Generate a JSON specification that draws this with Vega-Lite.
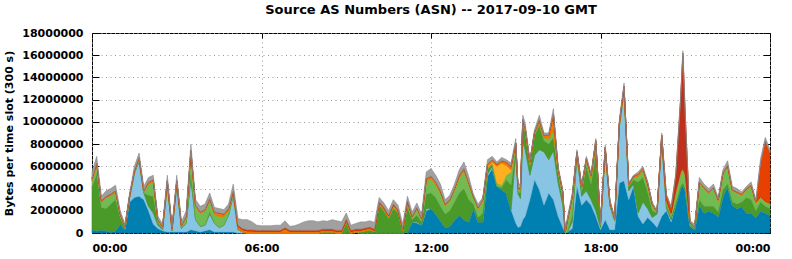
{
"$schema": "https://vega.github.io/schema/vega-lite/v6.json",
"autosize": {"type": "none"},
"padding": {"left": 92, "top": 33, "right": 22, "bottom": 26},
"width": 678,
"height": 200,
"background": "white",
"title": {"text": "Source AS Numbers (ASN) -- 2017-09-10 GMT", "font": "DejaVu Sans", "fontSize": 13, "fontWeight": "bold", "color": "black", "anchor": "middle", "offset": 10},
"config": {
  "view": {"stroke": "black", "strokeWidth": 1},
  "axis": {"labelFont": "DejaVu Sans", "labelFontWeight": "bold", "labelFontSize": 11, "labelColor": "black", "domain": false, "tickColor": "black", "titleFont": "DejaVu Sans", "titleFontWeight": "bold", "titleFontSize": 11, "titleColor": "black", "gridColor": "#9a9a9a", "gridDash": [1, 3.5], "gridOpacity": 1}
},
"data": {"values": [
{"t":0,"a":300000,"b":0,"c":3800000,"d":600000,"e":0,"f":200000,"g":0,"h":0,"i":600000},
{"t":10,"a":200000,"b":0,"c":5100000,"d":800000,"e":0,"f":200000,"g":0,"h":0,"i":600000},
{"t":20,"a":300000,"b":0,"c":2000000,"d":500000,"e":0,"f":100000,"g":0,"h":0,"i":400000},
{"t":30,"a":200000,"b":0,"c":2000000,"d":1000000,"e":0,"f":100000,"g":0,"h":0,"i":500000},
{"t":40,"a":100000,"b":0,"c":2500000,"d":800000,"e":0,"f":100000,"g":0,"h":0,"i":500000},
{"t":50,"a":200000,"b":0,"c":2800000,"d":700000,"e":0,"f":100000,"g":0,"h":0,"i":500000},
{"t":60,"a":800000,"b":0,"c":600000,"d":200000,"e":0,"f":100000,"g":0,"h":0,"i":300000},
{"t":70,"a":300000,"b":0,"c":100000,"d":100000,"e":0,"f":100000,"g":0,"h":0,"i":200000},
{"t":80,"a":2800000,"b":400000,"c":0,"d":100000,"e":0,"f":100000,"g":0,"h":0,"i":200000},
{"t":90,"a":3200000,"b":2200000,"c":0,"d":100000,"e":0,"f":100000,"g":0,"h":0,"i":400000},
{"t":100,"a":3300000,"b":3200000,"c":0,"d":200000,"e":0,"f":100000,"g":0,"h":0,"i":400000},
{"t":110,"a":3000000,"b":600000,"c":0,"d":100000,"e":0,"f":100000,"g":0,"h":0,"i":400000},
{"t":120,"a":2000000,"b":400000,"c":1000000,"d":1000000,"e":0,"f":200000,"g":0,"h":0,"i":400000},
{"t":130,"a":800000,"b":1000000,"c":1500000,"d":1300000,"e":0,"f":200000,"g":0,"h":0,"i":400000},
{"t":140,"a":400000,"b":300000,"c":200000,"d":200000,"e":0,"f":100000,"g":0,"h":0,"i":300000},
{"t":150,"a":200000,"b":100000,"c":100000,"d":100000,"e":0,"f":100000,"g":0,"h":0,"i":200000},
{"t":160,"a":100000,"b":4200000,"c":0,"d":200000,"e":0,"f":200000,"g":0,"h":0,"i":500000},
{"t":170,"a":100000,"b":100000,"c":0,"d":100000,"e":0,"f":100000,"g":0,"h":0,"i":200000},
{"t":180,"a":100000,"b":4200000,"c":0,"d":300000,"e":0,"f":100000,"g":0,"h":0,"i":500000},
{"t":190,"a":100000,"b":300000,"c":0,"d":200000,"e":0,"f":100000,"g":0,"h":0,"i":300000},
{"t":200,"a":100000,"b":800000,"c":0,"d":500000,"e":0,"f":100000,"g":0,"h":0,"i":500000},
{"t":210,"a":300000,"b":4500000,"c":400000,"d":2000000,"e":0,"f":200000,"g":0,"h":0,"i":600000},
{"t":220,"a":200000,"b":1000000,"c":0,"d":1200000,"e":0,"f":100000,"g":0,"h":0,"i":500000},
{"t":230,"a":100000,"b":500000,"c":0,"d":1200000,"e":0,"f":100000,"g":0,"h":0,"i":500000},
{"t":240,"a":200000,"b":500000,"c":0,"d":1300000,"e":0,"f":100000,"g":0,"h":0,"i":500000},
{"t":250,"a":300000,"b":1400000,"c":200000,"d":1100000,"e":0,"f":100000,"g":0,"h":0,"i":500000},
{"t":260,"a":100000,"b":800000,"c":0,"d":800000,"e":0,"f":200000,"g":0,"h":0,"i":400000},
{"t":270,"a":100000,"b":400000,"c":0,"d":1000000,"e":0,"f":300000,"g":0,"h":0,"i":400000},
{"t":280,"a":100000,"b":600000,"c":0,"d":800000,"e":0,"f":200000,"g":0,"h":0,"i":400000},
{"t":290,"a":100000,"b":1500000,"c":0,"d":400000,"e":0,"f":200000,"g":0,"h":0,"i":400000},
{"t":300,"a":100000,"b":3300000,"c":0,"d":200000,"e":0,"f":200000,"g":0,"h":0,"i":600000},
{"t":310,"a":0,"b":300000,"c":0,"d":100000,"e":0,"f":200000,"g":0,"h":100000,"i":600000},
{"t":320,"a":0,"b":100000,"c":0,"d":0,"e":0,"f":200000,"g":0,"h":100000,"i":800000},
{"t":330,"a":0,"b":0,"c":0,"d":0,"e":0,"f":200000,"g":0,"h":100000,"i":900000},
{"t":340,"a":0,"b":0,"c":0,"d":0,"e":0,"f":200000,"g":0,"h":100000,"i":700000},
{"t":350,"a":0,"b":0,"c":0,"d":0,"e":0,"f":150000,"g":0,"h":100000,"i":450000},
{"t":360,"a":0,"b":0,"c":0,"d":0,"e":0,"f":150000,"g":0,"h":100000,"i":400000},
{"t":370,"a":0,"b":0,"c":0,"d":0,"e":0,"f":150000,"g":0,"h":100000,"i":400000},
{"t":380,"a":0,"b":0,"c":0,"d":0,"e":0,"f":150000,"g":0,"h":100000,"i":400000},
{"t":390,"a":0,"b":0,"c":0,"d":0,"e":0,"f":150000,"g":0,"h":100000,"i":450000},
{"t":400,"a":0,"b":0,"c":0,"d":0,"e":0,"f":150000,"g":0,"h":100000,"i":450000},
{"t":410,"a":0,"b":0,"c":0,"d":0,"e":0,"f":400000,"g":0,"h":100000,"i":600000},
{"t":420,"a":0,"b":0,"c":0,"d":0,"e":0,"f":150000,"g":0,"h":100000,"i":350000},
{"t":430,"a":0,"b":0,"c":0,"d":0,"e":0,"f":150000,"g":0,"h":100000,"i":400000},
{"t":440,"a":0,"b":0,"c":0,"d":0,"e":0,"f":150000,"g":0,"h":100000,"i":550000},
{"t":450,"a":0,"b":0,"c":0,"d":0,"e":0,"f":150000,"g":0,"h":100000,"i":750000},
{"t":460,"a":0,"b":0,"c":0,"d":0,"e":0,"f":150000,"g":0,"h":100000,"i":850000},
{"t":470,"a":0,"b":0,"c":0,"d":0,"e":0,"f":150000,"g":0,"h":100000,"i":850000},
{"t":480,"a":0,"b":0,"c":0,"d":0,"e":0,"f":150000,"g":0,"h":100000,"i":750000},
{"t":490,"a":0,"b":0,"c":100000,"d":0,"e":0,"f":150000,"g":0,"h":100000,"i":750000},
{"t":500,"a":0,"b":0,"c":100000,"d":0,"e":0,"f":150000,"g":0,"h":100000,"i":700000},
{"t":510,"a":0,"b":0,"c":100000,"d":0,"e":0,"f":150000,"g":0,"h":100000,"i":850000},
{"t":520,"a":0,"b":0,"c":0,"d":0,"e":0,"f":150000,"g":0,"h":100000,"i":850000},
{"t":530,"a":0,"b":0,"c":0,"d":0,"e":0,"f":150000,"g":0,"h":100000,"i":750000},
{"t":540,"a":0,"b":0,"c":1000000,"d":0,"e":0,"f":150000,"g":0,"h":100000,"i":550000},
{"t":550,"a":0,"b":0,"c":0,"d":0,"e":0,"f":150000,"g":0,"h":100000,"i":450000},
{"t":560,"a":100000,"b":0,"c":0,"d":0,"e":0,"f":150000,"g":0,"h":100000,"i":500000},
{"t":570,"a":0,"b":0,"c":100000,"d":0,"e":0,"f":150000,"g":0,"h":100000,"i":650000},
{"t":580,"a":0,"b":0,"c":200000,"d":0,"e":0,"f":150000,"g":0,"h":100000,"i":550000},
{"t":590,"a":0,"b":0,"c":300000,"d":0,"e":0,"f":150000,"g":0,"h":100000,"i":550000},
{"t":600,"a":0,"b":0,"c":150000,"d":0,"e":0,"f":100000,"g":0,"h":100000,"i":600000},
{"t":610,"a":0,"b":0,"c":2500000,"d":100000,"e":0,"f":150000,"g":0,"h":50000,"i":400000},
{"t":620,"a":0,"b":0,"c":2000000,"d":100000,"e":0,"f":150000,"g":0,"h":50000,"i":400000},
{"t":630,"a":0,"b":0,"c":1300000,"d":100000,"e":0,"f":150000,"g":0,"h":50000,"i":400000},
{"t":640,"a":0,"b":0,"c":2200000,"d":200000,"e":0,"f":150000,"g":0,"h":50000,"i":400000},
{"t":650,"a":0,"b":0,"c":1800000,"d":100000,"e":0,"f":150000,"g":0,"h":50000,"i":400000},
{"t":660,"a":0,"b":0,"c":200000,"d":0,"e":0,"f":150000,"g":0,"h":50000,"i":400000},
{"t":670,"a":100000,"b":0,"c":2200000,"d":400000,"e":0,"f":150000,"g":0,"h":50000,"i":400000},
{"t":680,"a":1000000,"b":0,"c":200000,"d":200000,"e":0,"f":100000,"g":0,"h":0,"i":400000},
{"t":690,"a":900000,"b":100000,"c":600000,"d":600000,"e":0,"f":100000,"g":0,"h":0,"i":400000},
{"t":700,"a":700000,"b":0,"c":300000,"d":200000,"e":0,"f":100000,"g":0,"h":0,"i":400000},
{"t":710,"a":2000000,"b":200000,"c":1300000,"d":1200000,"e":0,"f":200000,"g":0,"h":0,"i":600000},
{"t":720,"a":2200000,"b":0,"c":1400000,"d":1300000,"e":0,"f":200000,"g":0,"h":0,"i":700000},
{"t":730,"a":1700000,"b":0,"c":1500000,"d":1200000,"e":0,"f":200000,"g":0,"h":0,"i":600000},
{"t":740,"a":1100000,"b":0,"c":1300000,"d":1200000,"e":0,"f":200000,"g":0,"h":0,"i":600000},
{"t":750,"a":500000,"b":0,"c":1200000,"d":800000,"e":0,"f":100000,"g":0,"h":0,"i":400000},
{"t":760,"a":600000,"b":0,"c":1400000,"d":900000,"e":0,"f":100000,"g":0,"h":0,"i":400000},
{"t":770,"a":1200000,"b":0,"c":1600000,"d":1000000,"e":100000,"f":100000,"g":0,"h":0,"i":400000},
{"t":780,"a":1600000,"b":0,"c":2000000,"d":1400000,"e":0,"f":200000,"g":0,"h":0,"i":500000},
{"t":790,"a":1200000,"b":0,"c":2800000,"d":1600000,"e":0,"f":200000,"g":0,"h":0,"i":600000},
{"t":800,"a":1000000,"b":0,"c":2000000,"d":1400000,"e":0,"f":200000,"g":0,"h":0,"i":500000},
{"t":810,"a":2300000,"b":0,"c":300000,"d":600000,"e":0,"f":100000,"g":0,"h":0,"i":200000},
{"t":820,"a":1000000,"b":0,"c":400000,"d":800000,"e":0,"f":100000,"g":0,"h":0,"i":300000},
{"t":830,"a":1000000,"b":0,"c":800000,"d":1000000,"e":100000,"f":100000,"g":0,"h":0,"i":200000},
{"t":840,"a":5100000,"b":200000,"c":400000,"d":200000,"e":100000,"f":200000,"g":0,"h":0,"i":400000},
{"t":850,"a":5800000,"b":200000,"c":200000,"d":100000,"e":100000,"f":200000,"g":0,"h":0,"i":300000},
{"t":860,"a":4200000,"b":0,"c":0,"d":300000,"e":1500000,"f":200000,"g":0,"h":0,"i":200000},
{"t":870,"a":3900000,"b":0,"c":200000,"d":200000,"e":2000000,"f":200000,"g":0,"h":0,"i":300000},
{"t":880,"a":3600000,"b":0,"c":1200000,"d":400000,"e":900000,"f":300000,"g":0,"h":0,"i":200000},
{"t":890,"a":2100000,"b":0,"c":2200000,"d":1200000,"e":200000,"f":300000,"g":0,"h":0,"i":300000},
{"t":900,"a":900000,"b":6200000,"c":400000,"d":400000,"e":0,"f":200000,"g":0,"h":0,"i":400000},
{"t":905,"a":500000,"b":3000000,"c":200000,"d":200000,"e":0,"f":100000,"g":0,"h":0,"i":300000},
{"t":910,"a":600000,"b":2500000,"c":500000,"d":300000,"e":0,"f":200000,"g":0,"h":0,"i":400000},
{"t":915,"a":1200000,"b":7000000,"c":1400000,"d":300000,"e":0,"f":300000,"g":0,"h":0,"i":400000},
{"t":920,"a":1500000,"b":6000000,"c":1600000,"d":200000,"e":0,"f":200000,"g":0,"h":0,"i":400000},
{"t":930,"a":3000000,"b":2200000,"c":800000,"d":200000,"e":0,"f":200000,"g":0,"h":0,"i":200000},
{"t":940,"a":4800000,"b":2200000,"c":1800000,"d":200000,"e":0,"f":100000,"g":0,"h":0,"i":200000},
{"t":950,"a":3900000,"b":3600000,"c":2200000,"d":200000,"e":0,"f":300000,"g":0,"h":0,"i":400000},
{"t":960,"a":2500000,"b":4800000,"c":1000000,"d":300000,"e":0,"f":200000,"g":0,"h":0,"i":200000},
{"t":970,"a":3600000,"b":3000000,"c":1400000,"d":500000,"e":0,"f":300000,"g":0,"h":0,"i":200000},
{"t":980,"a":3000000,"b":4400000,"c":1200000,"d":600000,"e":0,"f":1500000,"g":0,"h":0,"i":500000},
{"t":990,"a":1500000,"b":3000000,"c":800000,"d":300000,"e":0,"f":200000,"g":0,"h":0,"i":200000},
{"t":1000,"a":500000,"b":2000000,"c":400000,"d":600000,"e":0,"f":200000,"g":0,"h":0,"i":200000},
{"t":1005,"a":0,"b":0,"c":0,"d":100000,"e":0,"f":0,"g":0,"h":0,"i":200000},
{"t":1010,"a":100000,"b":0,"c":0,"d":1000000,"e":0,"f":100000,"g":0,"h":0,"i":300000},
{"t":1020,"a":400000,"b":600000,"c":600000,"d":1500000,"e":0,"f":200000,"g":0,"h":0,"i":300000},
{"t":1030,"a":4200000,"b":2800000,"c":0,"d":200000,"e":0,"f":100000,"g":0,"h":0,"i":200000},
{"t":1040,"a":2500000,"b":800000,"c":400000,"d":400000,"e":0,"f":100000,"g":0,"h":0,"i":200000},
{"t":1050,"a":3000000,"b":800000,"c":2200000,"d":500000,"e":0,"f":200000,"g":0,"h":0,"i":200000},
{"t":1060,"a":2500000,"b":500000,"c":1400000,"d":600000,"e":0,"f":200000,"g":0,"h":0,"i":200000},
{"t":1070,"a":1500000,"b":500000,"c":5200000,"d":800000,"e":0,"f":300000,"g":0,"h":0,"i":200000},
{"t":1080,"a":300000,"b":200000,"c":200000,"d":100000,"e":0,"f":100000,"g":0,"h":0,"i":100000},
{"t":1090,"a":1200000,"b":6000000,"c":200000,"d":100000,"e":0,"f":200000,"g":0,"h":0,"i":200000},
{"t":1100,"a":300000,"b":2200000,"c":0,"d":200000,"e":0,"f":100000,"g":0,"h":0,"i":200000},
{"t":1110,"a":300000,"b":800000,"c":0,"d":100000,"e":0,"f":100000,"g":0,"h":0,"i":200000},
{"t":1120,"a":4500000,"b":5000000,"c":100000,"d":100000,"e":0,"f":200000,"g":0,"h":0,"i":300000},
{"t":1130,"a":4700000,"b":8000000,"c":100000,"d":100000,"e":0,"f":300000,"g":0,"h":0,"i":300000},
{"t":1140,"a":3000000,"b":800000,"c":400000,"d":100000,"e":0,"f":100000,"g":0,"h":0,"i":100000},
{"t":1150,"a":4200000,"b":200000,"c":400000,"d":200000,"e":0,"f":100000,"g":0,"h":0,"i":100000},
{"t":1160,"a":1500000,"b":300000,"c":2800000,"d":500000,"e":0,"f":200000,"g":0,"h":0,"i":200000},
{"t":1170,"a":800000,"b":2000000,"c":2200000,"d":600000,"e":0,"f":200000,"g":0,"h":0,"i":200000},
{"t":1180,"a":1400000,"b":800000,"c":1500000,"d":600000,"e":0,"f":200000,"g":0,"h":0,"i":200000},
{"t":1190,"a":1000000,"b":400000,"c":600000,"d":500000,"e":0,"f":100000,"g":0,"h":0,"i":200000},
{"t":1200,"a":500000,"b":1200000,"c":100000,"d":100000,"e":0,"f":50000,"g":0,"h":0,"i":50000},
{"t":1210,"a":1500000,"b":6800000,"c":100000,"d":200000,"e":0,"f":200000,"g":0,"h":0,"i":200000},
{"t":1220,"a":2000000,"b":200000,"c":300000,"d":400000,"e":0,"f":100000,"g":0,"h":400000,"i":100000},
{"t":1230,"a":1000000,"b":200000,"c":200000,"d":300000,"e":0,"f":100000,"g":0,"h":500000,"i":100000},
{"t":1240,"a":2500000,"b":0,"c":200000,"d":1000000,"e":0,"f":100000,"g":1200000,"h":200000,"i":200000},
{"t":1250,"a":4000000,"b":0,"c":200000,"d":1200000,"e":0,"f":100000,"g":6200000,"h":200000,"i":300000},
{"t":1255,"a":4300000,"b":0,"c":200000,"d":1200000,"e":0,"f":100000,"g":10200000,"h":200000,"i":200000},
{"t":1260,"a":3800000,"b":0,"c":200000,"d":1200000,"e":0,"f":100000,"g":5000000,"h":200000,"i":300000},
{"t":1270,"a":600000,"b":0,"c":100000,"d":200000,"e":0,"f":50000,"g":0,"h":50000,"i":100000},
{"t":1280,"a":300000,"b":0,"c":100000,"d":100000,"e":0,"f":50000,"g":0,"h":0,"i":250000},
{"t":1290,"a":2600000,"b":0,"c":400000,"d":1500000,"e":0,"f":100000,"g":0,"h":0,"i":400000},
{"t":1300,"a":1800000,"b":0,"c":600000,"d":1600000,"e":0,"f":100000,"g":0,"h":0,"i":300000},
{"t":1310,"a":2000000,"b":0,"c":400000,"d":1200000,"e":0,"f":100000,"g":0,"h":0,"i":300000},
{"t":1320,"a":1800000,"b":0,"c":600000,"d":1600000,"e":0,"f":100000,"g":0,"h":0,"i":300000},
{"t":1330,"a":1500000,"b":0,"c":400000,"d":1000000,"e":0,"f":100000,"g":0,"h":0,"i":200000},
{"t":1340,"a":3300000,"b":0,"c":600000,"d":1400000,"e":0,"f":100000,"g":0,"h":0,"i":300000},
{"t":1350,"a":4200000,"b":0,"c":200000,"d":1600000,"e":0,"f":100000,"g":0,"h":0,"i":400000},
{"t":1360,"a":2500000,"b":0,"c":300000,"d":1000000,"e":0,"f":100000,"g":0,"h":0,"i":300000},
{"t":1370,"a":2200000,"b":0,"c":400000,"d":1000000,"e":0,"f":100000,"g":0,"h":0,"i":300000},
{"t":1380,"a":2400000,"b":0,"c":400000,"d":600000,"e":0,"f":100000,"g":0,"h":0,"i":200000},
{"t":1390,"a":1800000,"b":0,"c":1400000,"d":700000,"e":0,"f":100000,"g":0,"h":0,"i":200000},
{"t":1400,"a":1800000,"b":0,"c":1200000,"d":1200000,"e":0,"f":100000,"g":0,"h":0,"i":300000},
{"t":1410,"a":1400000,"b":0,"c":600000,"d":700000,"e":0,"f":100000,"g":0,"h":0,"i":200000},
{"t":1420,"a":2000000,"b":0,"c":800000,"d":400000,"e":0,"f":100000,"g":0,"h":3000000,"i":400000},
{"t":1430,"a":1800000,"b":0,"c":600000,"d":400000,"e":0,"f":100000,"g":0,"h":5400000,"i":300000},
{"t":1440,"a":1600000,"b":0,"c":600000,"d":400000,"e":0,"f":100000,"g":0,"h":4500000,"i":300000}
]},
"transform": [{"fold": ["a","b","c","d","e","f","g","h","i"], "as": ["series","value"]}],
"encoding": {
  "x": {"field": "t", "type": "quantitative", "scale": {"domain": [0, 1440], "nice": false, "zero": false}},
  "y": {"field": "value", "type": "quantitative", "stack": "zero", "scale": {"domain": [0, 18000000], "nice": false}}
},
"layer": [
  {
    "mark": {"type": "area", "interpolate": "linear", "strokeWidth": 0.6},
    "encoding": {
      "x": {"field": "t", "type": "quantitative", "axis": {"title": null, "values": [0, 360, 720, 1080, 1440], "labelExpr": "(datum.value/60%24<10?'0':'')+(datum.value/60%24)+':00'", "tickSize": -5, "labelPadding": 14, "grid": true}},
      "y": {"field": "value", "type": "quantitative", "stack": "zero", "axis": {"title": "Bytes per time slot (300 s)", "values": [0,2000000,4000000,6000000,8000000,10000000,12000000,14000000,16000000,18000000], "format": "d", "tickSize": -7, "labelPadding": 16, "titlePadding": 7, "grid": true}},
      "color": {"field": "series", "type": "nominal", "legend": null, "scale": {"domain": ["a","b","c","d","e","f","g","h","i"], "range": ["#0080b0","#88c4e4","#4a9a2a","#72bb52","#ffb020","#f07800","#c03020","#e84000","#a0a0a0"]}},
      "stroke": {"field": "series", "type": "nominal", "legend": null, "scale": {"domain": ["a","b","c","d","e","f","g","h","i"], "range": ["#006e9a","#74b2d4","#3d8a22","#62a844","#eea010","#e06800","#a82818","#d03800","#858585"]}},
      "order": {"field": "series", "sort": "ascending"}
    }
  },
  {
    "mark": {"type": "point", "opacity": 0},
    "encoding": {
      "x": {"field": "t", "type": "quantitative", "axis": {"orient": "top", "title": null, "labels": false, "values": [0, 360, 720, 1080, 1440], "tickSize": -5, "grid": false}},
      "y": {"field": "value", "type": "quantitative", "stack": "zero", "axis": {"orient": "right", "title": null, "labels": false, "values": [0,2000000,4000000,6000000,8000000,10000000,12000000,14000000,16000000,18000000], "tickSize": -7, "grid": false}},
      "detail": {"field": "series", "type": "nominal"}
    }
  }
],
"resolve": {"axis": {"x": "independent", "y": "independent"}}
}
